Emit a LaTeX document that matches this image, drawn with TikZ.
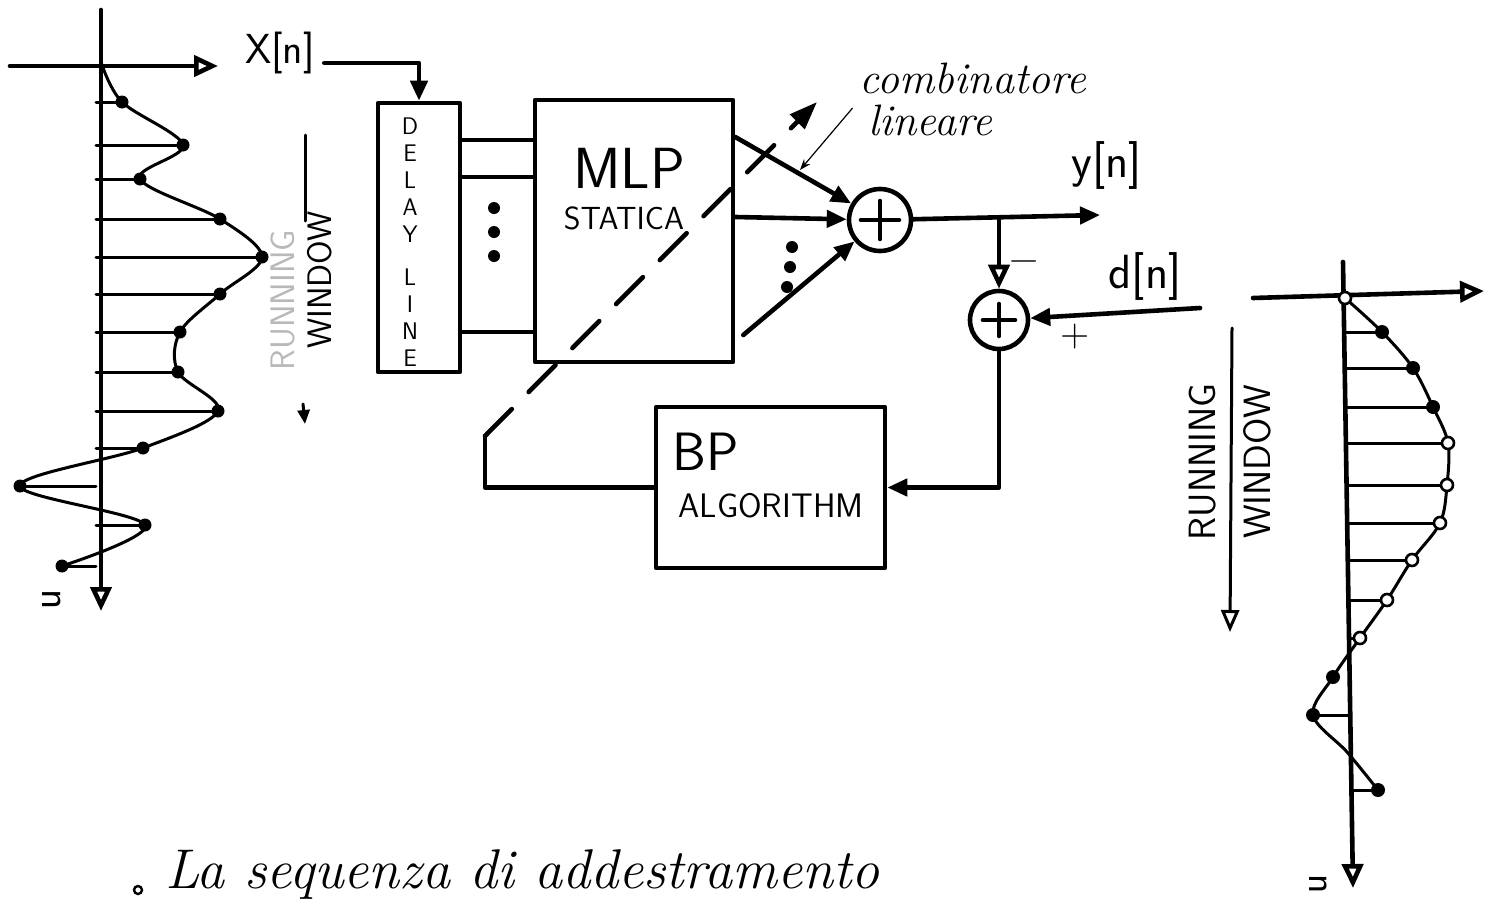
\documentclass[tikz,border=0pt]{standalone}
\usepackage{fontspec}
\usetikzlibrary{positioning,arrows.meta}

\tikzset{
  ink/.style={line width=4.6pt, line cap=round, line join=round},
  stem/.style={line width=3pt, line cap=round, line join=round},
  block/.style={draw, ink, inner sep=0pt},
  sumnode/.style 2 args={draw, ink, circle, inner sep=0pt, minimum size=#1,
    path picture={\draw[ink] (path picture bounding box.center) +(-#2,0) -- +(#2,0)
      (path picture bounding box.center) +(0,-#2) -- +(0,#2);}},
  caps/.style={font=\sffamily\fontsize{#1}{#1}\selectfont},
  hand/.style={font=\itshape\fontsize{#1}{#1}\selectfont},
  fulltip/.style={-{Triangle[length=20pt,width=17pt]}},
  opentip/.style={-{Triangle[open,length=24pt,width=21pt]}},
}

\begin{document}
\begin{tikzpicture}[x=1pt, y=-1pt]
\path[use as bounding box, fill=white] (0,0) rectangle (1488,905);

% input signal with its sample stems
\draw[ink, opentip] (10,66) -- (218,66);
\draw[ink, opentip] (101,10) -- (101,611);
\foreach \sy/\sx in {102/122, 145/183, 179/140, 219/220, 257/262, 294/220, 332/180, 372/178, 411/218, 448/143, 486/20, 525/145, 566/62}
{
  \draw[stem] (96,\sy) -- (\sx,\sy);
  \fill (\sx,\sy) circle (6.5pt);
}
\draw[stem] plot[smooth, tension=0.55] coordinates {(101,62) (122,102) (183,145) (140,179) (220,219) (262,257) (220,294) (180,332) (178,372) (218,411) (143,448) (20,486) (145,525) (62,566)};
\node[caps=42, rotate=-90] (nL) at (52,600) {n};

% running window on the input
\node[caps=34, rotate=90, gray!55] (runL) at (283,300) {RUNNING};
\node[caps=34, rotate=90] (winL) at (320,280) {WINDOW};
\draw[stem] (305,135) -- (305,221);
\draw[stem, -{Triangle[length=14pt,width=12pt]}] (303,404) -- (305,424);

% blocks
\node[block, minimum width=82pt, minimum height=269pt] (delay) at (419,237.5) {};
\node[align=center, font=\sffamily\fontsize{24}{27}\selectfont] (dlyA) at (410,180) {D\\E\\L\\A\\Y};
\node[align=center, font=\sffamily\fontsize{24}{27}\selectfont] (dlyB) at (410,318) {L\\I\\N\\E};

\node[block, minimum width=198pt, minimum height=262pt] (mlp) at (634,231) {};
\node[caps=58] (mlpT) at (629,168) {MLP};
\node[caps=32] (mlpS) at (624,218) {STATICA};

\node[block, minimum width=229pt, minimum height=161pt] (bp) at (770.5,487.5) {};
\node[caps=54] (bpT) at (706,452) {BP};
\node[caps=34] (bpS) at (771,506) {ALGORITHM};

\node[sumnode={62pt}{19pt}] (sumA) at (880,220) {};
\node[sumnode={58pt}{16pt}] (sumB) at (999,320) {};

% signal flow
\node[caps=42] (xin) at (280,53) {X[n]};
\draw[ink, fulltip] ([xshift=6pt,yshift=-10pt]xin.east) -| (delay.north);

\foreach \ty in {140,177,332}
  \draw[ink] (delay.east |- 0,\ty) -- (mlp.west |- 0,\ty);
\foreach \ty in {208,232,256}
  \fill (494,\ty) circle (6pt);

\draw[ink, fulltip] ([yshift=94pt]mlp.east) -- (sumA);
\draw[ink, fulltip] ([yshift=14pt]mlp.east) -- (sumA);
\draw[ink, fulltip] ([xshift=8pt,yshift=-104pt]mlp.east) -- (sumA);
\foreach \dx/\ty in {792/247, 790/267, 787/287}
  \fill (\dx,\ty) circle (6pt);

\coordinate (yend) at (1100,215);
\coordinate (tap) at (999,218);
\draw[ink, fulltip] (sumA) -- (yend);
\node[caps=48] (ylab) at (1107,165) {y[n]};
\draw[ink, opentip] (tap) -- (sumB);
\node[caps=40] (minus) at (1024,266) {−};

\coordinate (dstart) at (1200,308);
\draw[ink, fulltip] (dstart) -- (sumB);
\node[caps=48] (dlab) at (1145,276) {d[n]};
\node[caps=40] (plus) at (1075,337) {+};

\draw[ink, fulltip] (sumB) |- (bp.east);

% weight update through the MLP
\coordinate (fbk) at (485,436);
\coordinate (wtip) at (817,102);
\draw[ink] (bp.west) -| (fbk);
\draw[ink, dash pattern=on 38pt off 24pt, -{Triangle[length=28pt,width=20pt]}] (fbk) -- (wtip);

\node[hand=44] (comb) at (973,78) {combinatore};
\node[hand=44] (lin) at (930,120) {lineare};
\coordinate (ptr) at (800,170);
\draw[line width=1.2pt, -{Stealth[length=11pt,width=8pt]}] ([xshift=-12pt,yshift=12pt]lin.west) -- (ptr);

% output window
\draw[ink, opentip] (1253,298) -- (1484,291);
\draw[ink, opentip] (1343,262) -- (1353,888);
\foreach \sy/\ax/\sx in {332/1344/1382, 368/1345/1413, 407/1345/1433, 443/1346/1448, 485/1347/1447, 523/1347/1440, 560/1348/1412, 600/1348/1387, 638/1349/1360, 715/1350/1313, 790/1351/1378}
  \draw[stem] (\ax,\sy) -- (\sx,\sy);
\draw[stem] plot[smooth, tension=0.55] coordinates {(1345,298) (1382,332) (1413,368) (1433,407) (1448,443) (1447,485) (1440,523) (1412,560) (1387,600) (1360,638) (1333,677) (1313,715) (1347,752) (1378,790)};
\foreach \px/\py in {1382/332, 1413/368, 1433/407, 1333/677, 1313/715, 1378/790}
  \fill (\px,\py) circle (7pt);
\foreach \px/\py in {1345/298, 1448/443, 1447/485, 1440/523, 1412/560, 1387/600, 1360/638}
  \draw[line width=2.6pt, fill=white] (\px,\py) circle (6pt);
\node[caps=40, rotate=-90] (nR) at (1318,884) {n};

\node[caps=38, rotate=90] (runR) at (1203,462) {RUNNING};
\node[caps=38, rotate=90] (winR) at (1257,462) {WINDOW};
\draw[stem, -{Triangle[open,length=22pt,width=18pt]}] (1232,328) -- (1230,632);

% caption line
\draw[line width=2.4pt] (138,890) circle (4pt);
\node[hand=56, anchor=base west, inner sep=0pt] (seq) at (165,888) {La sequenza di addestramento};
\end{tikzpicture}
\end{document}
